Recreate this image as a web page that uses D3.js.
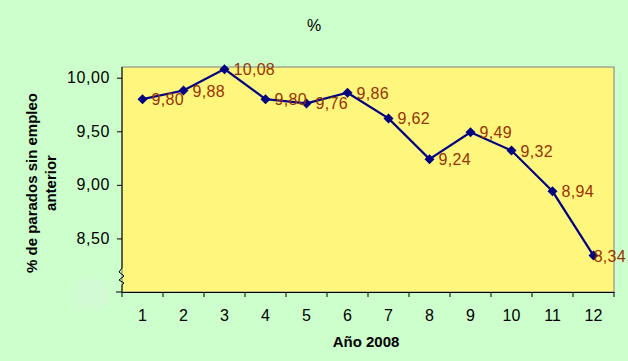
<!DOCTYPE html>
<html><head><meta charset="utf-8">
<script src="https://cdn.jsdelivr.net/npm/d3@7/dist/d3.min.js"></script>
<style>body{margin:0;background:#ccffcc}svg{display:block}</style>
</head><body>
<script>
const months = ["1","2","3","4","5","6","7","8","9","10","11","12"];
const values = [9.80, 9.88, 10.08, 9.80, 9.76, 9.86, 9.62, 9.24, 9.49, 9.32, 8.94, 8.34];
const yTicks = [8.5, 9.0, 9.5, 10.0];
const title = "%";
const xTitle = "Año 2008";
const yTitle = ["% de parados sin empleo", "anterior"];

const W = 628, H = 361;
const L = 122, R = 614, T = 67, B = 292;
const FF = "Arial, Liberation Sans, sans-serif";
const svg = d3.select("body").append("svg").attr("width", W).attr("height", H);
svg.append("rect").attr("width", W).attr("height", H).attr("fill", "#ccffcc");

const x = d3.scaleBand().domain(months).range([L, R]);
const y = d3.scaleLinear().domain([8.0, 10.1]).range([B, T]);
const fmt = v => d3.format(".2f")(v).replace(".", ",");

// faint patch
svg.append("rect").attr("x", 74).attr("y", 279).attr("width", 34).attr("height", 30).attr("rx", 8)
  .attr("fill", "#d3fbd3");

// plot area
svg.append("rect").attr("x", L).attr("y", T).attr("width", R - L).attr("height", B - T)
  .attr("fill", "#fff67e").attr("stroke", "#808080").attr("stroke-width", 1);

// y axis
const yAxis = d3.axisLeft(y).tickValues(yTicks).tickSize(5).tickFormat(fmt);
const ya = svg.append("g").attr("transform", `translate(${L},0)`).call(yAxis);
ya.select(".domain").remove();
ya.selectAll("text").attr("font-family", FF).attr("font-size", 16)
  .attr("fill", "#000").attr("x", -12).attr("letter-spacing", 0.6);
ya.selectAll("line").attr("stroke", "#000");
// axis line with break
const brk = [[L, T], [L, 268], [L - 3, 272], [L + 2, 276], [L - 3, 280], [L + 2, 283], [L, 285], [L, B], [L - 6, B]];
svg.append("path").attr("d", d3.line()(brk)).attr("fill", "none").attr("stroke", "#000").attr("stroke-width", 1);

// x axis
const xa = svg.append("g").attr("transform", `translate(0,${B})`).call(d3.axisBottom(x).tickSize(0).tickPadding(18));
xa.select(".domain").attr("stroke", "#000");
xa.selectAll("text").attr("font-family", FF).attr("font-size", 16).attr("fill", "#000").attr("dy", "0.71em");
const bounds = months.map(m => x(m)).concat([R]);
svg.append("g").selectAll("line").data(bounds).join("line")
  .attr("x1", d => d).attr("x2", d => d).attr("y1", B).attr("y2", B + 5).attr("stroke", "#000");

// line
const cx = (d, i) => x(months[i]) + x.bandwidth() / 2;
svg.append("path").datum(values)
  .attr("d", d3.line().x(cx).y(d => y(d)))
  .attr("fill", "none").attr("stroke", "#000080").attr("stroke-width", 2.2);
svg.append("g").selectAll("path").data(values).join("path")
  .attr("transform", (d, i) => `translate(${cx(d, i)},${y(d)})`)
  .attr("d", "M0,-5L5,0L0,5L-5,0Z").attr("fill", "#000080");

// labels
svg.append("g").selectAll("text").data(values).join("text")
  .attr("y", d => y(d) + 6)
  .attr("font-family", FF).attr("font-size", 16).attr("letter-spacing", 0.3)
  .attr("fill", "#993300").text(fmt)
  .attr("x", function(d, i) {
    const w = this.getComputedTextLength();
    return Math.min(cx(d, i) + 9, W - 2 - w);
  });

// titles
svg.append("text").attr("x", 314).attr("y", 31).attr("text-anchor", "middle")
  .attr("font-family", FF).attr("font-size", 16).text(title);
svg.append("text").attr("x", 366).attr("y", 347).attr("text-anchor", "middle")
  .attr("font-family", FF).attr("font-size", 15).attr("font-weight", "bold").text(xTitle);
const yt = svg.append("text").attr("transform", "translate(0,183) rotate(-90)")
  .attr("text-anchor", "middle").attr("font-family", FF)
  .attr("font-size", 15).attr("font-weight", "bold");
yt.append("tspan").attr("x", 0).attr("y", 37).text(yTitle[0]);
yt.append("tspan").attr("x", 0).attr("y", 56).text(yTitle[1]);
</script>
</body></html>
